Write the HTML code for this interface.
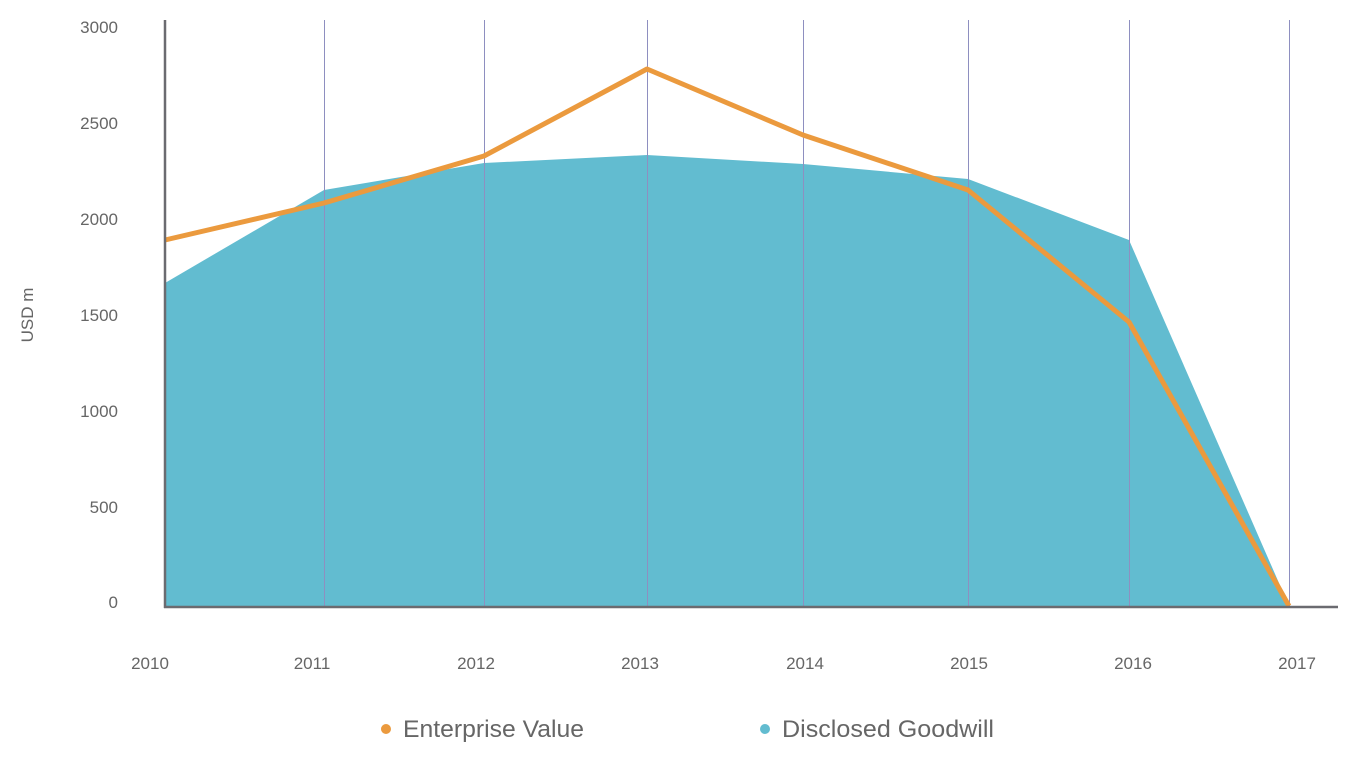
<!DOCTYPE html>
<html><head><style>body{margin:0;background:#fff}svg{display:block}text{font-family:"Liberation Sans",sans-serif;fill:#666}</style></head>
<body>
<svg width="1348" height="764" viewBox="0 0 1348 764">
<polygon points="165,283 324,190 484,163 647,155 803,164 968,179 1129,240 1289,606 165,606" fill="#62bcd0"/>
<g stroke="#8e8fc0" stroke-width="1">
<line x1="324.5" y1="20" x2="324.5" y2="606"/><line x1="484.5" y1="20" x2="484.5" y2="606"/>
<line x1="647.5" y1="20" x2="647.5" y2="606"/><line x1="803.5" y1="20" x2="803.5" y2="606"/>
<line x1="968.5" y1="20" x2="968.5" y2="606"/><line x1="1129.5" y1="20" x2="1129.5" y2="606"/>
<line x1="1289.5" y1="20" x2="1289.5" y2="606"/>
</g>
<polyline points="165,240 324,203 484,156 647,69 803,135 968,190 1129,322 1289,606" fill="none" stroke="#eb9a3e" stroke-width="5" stroke-linejoin="round"/>
<line x1="165" y1="20" x2="165" y2="608" stroke="#6b6b70" stroke-width="2.5"/>
<line x1="164" y1="607" x2="1338" y2="607" stroke="#6b6b70" stroke-width="2.5"/>
<g font-size="17" text-anchor="end">
<text x="118" y="33">3000</text><text x="118" y="129">2500</text><text x="118" y="225">2000</text>
<text x="118" y="321">1500</text><text x="118" y="417">1000</text><text x="118" y="513">500</text><text x="118" y="608">0</text>
</g>
<text transform="translate(33,315) rotate(-90)" font-size="17" text-anchor="middle">USD m</text>
<g font-size="17" text-anchor="middle">
<text x="150" y="669">2010</text><text x="312" y="669">2011</text><text x="476" y="669">2012</text>
<text x="640" y="669">2013</text><text x="805" y="669">2014</text><text x="969" y="669">2015</text>
<text x="1133" y="669">2016</text><text x="1297" y="669">2017</text>
</g>
<circle cx="386" cy="729" r="5" fill="#eb9a3e"/>
<text x="403" y="737" font-size="24" textLength="181" lengthAdjust="spacingAndGlyphs">Enterprise Value</text>
<circle cx="765" cy="729" r="5" fill="#62bcd0"/>
<text x="782" y="737" font-size="24" textLength="212" lengthAdjust="spacingAndGlyphs">Disclosed Goodwill</text>
</svg>
</body></html>
